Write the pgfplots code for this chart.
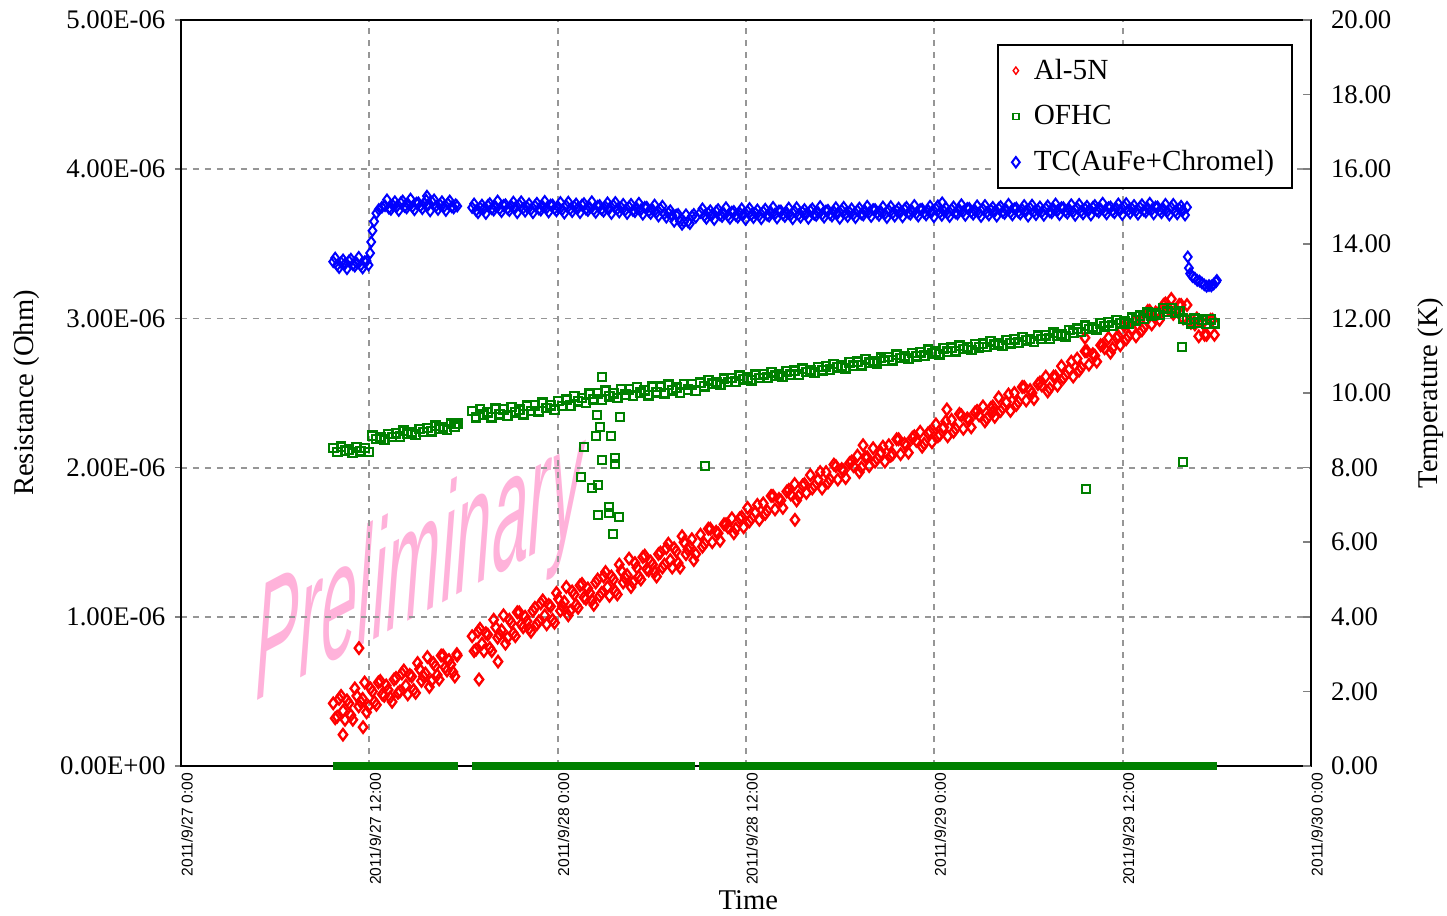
\documentclass[border=0pt]{standalone}
\usepackage{graphicx}
\usepackage{fontspec}
\setmainfont{Liberation Serif}
\newfontfamily\arialfont{Liberation Sans}
\usepackage{pgfplots}
\pgfplotsset{compat=1.18}
\usepackage{pgfplotstable}
\definecolor{wmpink}{RGB}{255,165,212}
\definecolor{gridgray}{RGB}{150,150,150}
\definecolor{ogreen}{RGB}{0,128,0}

% Al-5N resistance (x: hours since 2011/9/27 0:00, y: 1e-6 Ohm)
\pgfplotstableread{
h v
9.70 0.42
9.95 0.33
10.20 0.47
10.45 0.31
10.70 0.42
10.95 0.31
11.20 0.47
11.45 0.43
11.70 0.56
11.95 0.40
12.20 0.50
12.45 0.41
12.70 0.57
12.95 0.47
13.20 0.51
13.45 0.43
13.70 0.59
13.95 0.50
14.20 0.64
14.45 0.48
14.70 0.60
14.95 0.49
15.20 0.65
15.45 0.60
15.70 0.73
15.95 0.57
16.20 0.67
16.45 0.58
16.70 0.74
16.95 0.64
17.20 0.68
17.45 0.60
17.60 0.74
9.825 0.32
10.075 0.45
10.325 0.37
10.575 0.44
10.825 0.34
11.075 0.52
11.325 0.40
11.575 0.45
11.825 0.36
12.075 0.52
12.325 0.43
12.575 0.56
12.825 0.48
13.075 0.54
13.325 0.46
13.575 0.58
13.825 0.49
14.075 0.62
14.325 0.54
14.575 0.61
14.825 0.51
15.075 0.69
15.325 0.57
15.575 0.62
15.825 0.53
16.075 0.69
16.325 0.61
16.575 0.74
16.825 0.66
17.075 0.71
17.325 0.63
17.575 0.75
10.32 0.21
11.60 0.26
11.34 0.79
18.55 0.87
18.80 0.78
19.05 0.92
19.30 0.77
19.55 0.88
19.80 0.77
20.05 0.93
20.30 0.88
20.55 1.01
20.80 0.86
21.05 0.96
21.30 0.87
21.55 1.03
21.80 0.93
22.05 0.97
22.30 0.90
22.55 1.06
22.80 0.97
23.05 1.11
23.30 0.95
23.55 1.07
23.80 0.96
24.05 1.12
24.30 1.07
24.55 1.20
24.80 1.04
25.05 1.15
25.30 1.06
25.55 1.22
25.80 1.12
26.05 1.16
26.30 1.08
26.55 1.25
26.80 1.16
27.05 1.30
27.30 1.14
27.55 1.25
27.80 1.15
28.05 1.31
28.30 1.26
28.55 1.39
28.80 1.23
29.05 1.33
29.30 1.25
29.55 1.41
29.80 1.31
30.05 1.35
30.30 1.27
30.55 1.43
30.80 1.35
31.05 1.49
31.30 1.33
31.55 1.44
31.80 1.33
32.05 1.50
32.30 1.45
32.55 1.52
32.80 1.42
18.675 0.77
18.925 0.90
19.175 0.82
19.425 0.89
19.675 0.79
19.925 0.98
20.175 0.86
20.425 0.91
20.675 0.82
20.925 0.98
21.175 0.89
21.425 1.03
21.675 0.95
21.925 1.00
22.175 0.92
22.425 1.04
22.675 0.95
22.925 1.09
23.175 1.01
23.425 1.08
23.675 0.98
23.925 1.16
24.175 1.04
24.425 1.10
24.675 1.01
24.925 1.17
25.175 1.08
25.425 1.21
25.675 1.13
25.925 1.19
26.175 1.11
26.425 1.23
26.675 1.14
26.925 1.27
27.175 1.20
27.425 1.27
27.675 1.17
27.925 1.35
28.175 1.23
28.425 1.28
28.675 1.20
28.925 1.36
29.175 1.27
29.425 1.40
29.675 1.32
29.925 1.37
30.175 1.30
30.425 1.42
30.675 1.33
30.925 1.46
31.175 1.38
31.425 1.46
31.675 1.36
31.925 1.54
32.175 1.42
32.425 1.47
32.675 1.38
18.99 0.58
20.20 0.70
33.10 1.55
33.35 1.49
33.60 1.59
33.85 1.50
34.10 1.57
34.35 1.51
34.60 1.62
34.85 1.60
35.10 1.66
35.35 1.59
35.60 1.66
35.85 1.60
36.10 1.73
36.35 1.66
36.60 1.70
36.85 1.65
37.10 1.76
37.35 1.71
37.60 1.81
37.85 1.72
38.10 1.79
38.35 1.73
38.60 1.84
38.85 1.82
39.10 1.89
39.35 1.81
39.60 1.88
39.85 1.83
40.10 1.95
40.35 1.88
40.60 1.92
40.85 1.86
41.10 1.97
41.35 1.92
41.60 2.02
41.85 1.92
42.10 1.99
42.35 1.93
42.60 2.03
42.85 2.01
43.10 2.08
43.35 2.00
43.60 2.07
43.85 2.01
44.10 2.13
44.35 2.06
44.60 2.10
44.85 2.04
45.10 2.15
45.35 2.09
45.60 2.19
45.85 2.09
46.10 2.16
46.35 2.10
46.60 2.20
46.85 2.18
47.10 2.24
47.35 2.16
47.60 2.23
47.85 2.17
48.10 2.29
48.35 2.22
48.60 2.27
48.85 2.21
49.10 2.32
49.35 2.26
49.60 2.36
49.85 2.26
50.10 2.33
50.35 2.27
50.60 2.37
50.85 2.35
51.10 2.41
51.35 2.33
51.60 2.40
51.85 2.34
52.10 2.47
52.35 2.40
52.60 2.44
52.85 2.38
53.10 2.50
53.35 2.44
53.60 2.54
53.85 2.45
54.10 2.52
54.35 2.46
54.60 2.56
54.85 2.55
55.10 2.61
55.35 2.53
55.60 2.61
55.85 2.55
56.10 2.68
56.35 2.62
56.60 2.66
56.85 2.61
57.10 2.73
57.35 2.67
57.60 2.78
57.85 2.69
58.10 2.76
58.35 2.71
58.60 2.82
58.85 2.80
59.10 2.87
59.35 2.80
59.60 2.87
59.85 2.82
60.10 2.95
60.35 2.88
60.60 2.93
60.85 2.88
61.10 2.99
61.35 2.94
61.60 3.05
61.85 2.96
62.10 3.04
62.35 2.99
62.60 3.09
62.85 3.07
63.10 3.13
63.35 3.05
63.60 3.09
63.85 3.00
64.10 3.09
64.35 2.97
64.60 2.96
64.85 2.88
65.10 2.97
65.35 2.89
65.60 2.99
65.85 2.89
33.225 1.47
33.725 1.59
34.225 1.56
34.725 1.62
35.225 1.56
35.725 1.67
36.225 1.64
36.725 1.75
37.225 1.69
37.725 1.81
38.225 1.78
38.725 1.85
39.225 1.78
39.725 1.89
40.225 1.86
40.725 1.97
41.225 1.90
41.725 2.01
42.225 1.98
42.725 2.04
43.225 1.97
43.725 2.07
44.225 2.04
44.725 2.14
45.225 2.08
45.725 2.19
46.225 2.15
46.725 2.21
47.225 2.14
47.725 2.24
48.225 2.21
48.725 2.31
49.225 2.24
49.725 2.35
50.225 2.32
50.725 2.38
51.225 2.31
51.725 2.41
52.225 2.38
52.725 2.49
53.225 2.42
53.725 2.54
54.225 2.50
54.725 2.57
55.225 2.51
55.725 2.61
56.225 2.60
56.725 2.71
57.225 2.65
57.725 2.78
58.225 2.75
58.725 2.82
59.225 2.77
59.725 2.88
60.225 2.86
60.725 2.98
61.225 2.92
61.725 3.05
62.225 3.03
62.725 3.10
63.225 3.03
63.725 3.09
64.225 2.98
64.725 3.00
65.225 2.89
65.725 2.99
39.12 1.65
43.46 2.15
48.80 2.39
51.70 2.37
57.60 2.87
}\alfive

% OFHC resistance (1e-6 Ohm)
\pgfplotstableread{
h v
9.70 2.132
9.95 2.105
10.20 2.140
10.45 2.114
10.70 2.120
10.95 2.100
11.20 2.135
11.45 2.110
11.70 2.132
11.95 2.105
12.20 2.213
12.45 2.192
12.70 2.202
12.95 2.186
13.20 2.225
13.45 2.205
13.70 2.231
13.95 2.208
14.20 2.247
14.45 2.226
14.70 2.236
14.95 2.220
15.20 2.259
15.45 2.239
15.70 2.265
15.95 2.242
16.20 2.281
16.45 2.260
16.70 2.270
16.95 2.254
17.20 2.293
17.45 2.273
17.60 2.295
18.55 2.380
18.80 2.337
19.05 2.393
19.30 2.355
19.55 2.371
19.80 2.338
20.05 2.394
20.30 2.356
20.55 2.392
20.80 2.349
21.05 2.406
21.30 2.370
21.55 2.388
21.80 2.357
22.05 2.416
22.30 2.380
22.55 2.418
22.80 2.377
23.05 2.436
23.30 2.400
23.55 2.418
23.80 2.387
24.05 2.446
24.30 2.413
24.55 2.455
24.80 2.416
25.05 2.478
25.30 2.445
25.55 2.466
25.80 2.435
26.05 2.494
26.30 2.458
26.55 2.497
26.80 2.456
27.05 2.515
27.30 2.479
27.55 2.498
27.80 2.467
28.05 2.525
28.30 2.488
28.55 2.525
28.80 2.482
29.05 2.539
29.30 2.501
29.55 2.518
29.80 2.485
30.05 2.542
30.30 2.504
30.55 2.541
30.80 2.498
31.05 2.555
31.30 2.518
31.55 2.535
31.80 2.502
32.05 2.559
32.30 2.521
32.55 2.558
32.80 2.515
26.83 2.607
26.51 2.353
27.97 2.339
26.70 2.272
26.44 2.212
27.40 2.212
25.68 2.138
26.83 2.051
27.65 2.064
27.65 2.024
25.49 1.937
26.19 1.863
26.57 1.883
26.57 1.682
27.27 1.736
27.27 1.696
27.91 1.669
27.53 1.555
33.39 2.011
57.67 1.857
63.78 2.808
63.85 2.038
33.10 2.569
33.35 2.545
33.60 2.584
33.85 2.562
34.10 2.572
34.35 2.556
34.60 2.595
34.85 2.574
35.10 2.600
35.35 2.576
35.60 2.615
35.85 2.593
36.10 2.602
36.35 2.585
36.60 2.623
36.85 2.601
37.10 2.626
37.35 2.602
37.60 2.639
37.85 2.616
38.10 2.625
38.35 2.608
38.60 2.646
38.85 2.624
39.10 2.649
39.35 2.624
39.60 2.663
39.85 2.641
40.10 2.651
40.35 2.635
40.60 2.674
40.85 2.653
41.10 2.679
41.35 2.656
41.60 2.695
41.85 2.672
42.10 2.682
42.35 2.666
42.60 2.705
42.85 2.684
43.10 2.710
43.35 2.687
43.60 2.726
43.85 2.704
44.10 2.714
44.35 2.698
44.60 2.737
44.85 2.716
45.10 2.741
45.35 2.718
45.60 2.757
45.85 2.735
46.10 2.745
46.35 2.729
46.60 2.768
46.85 2.747
47.10 2.773
47.35 2.750
47.60 2.789
47.85 2.767
48.10 2.776
48.35 2.760
48.60 2.799
48.85 2.777
49.10 2.803
49.35 2.779
49.60 2.818
49.85 2.795
50.10 2.805
50.35 2.788
50.60 2.827
50.85 2.805
51.10 2.831
51.35 2.808
51.60 2.846
51.85 2.824
52.10 2.833
52.35 2.817
52.60 2.855
52.85 2.834
53.10 2.859
53.35 2.836
53.60 2.875
53.85 2.852
54.10 2.862
54.35 2.845
54.60 2.884
54.85 2.862
55.10 2.888
55.35 2.864
55.60 2.905
55.85 2.884
56.10 2.896
56.35 2.881
56.60 2.922
56.85 2.903
57.10 2.930
57.35 2.909
57.60 2.950
57.85 2.929
58.10 2.941
58.35 2.926
58.60 2.967
58.85 2.946
59.10 2.973
59.35 2.950
59.60 2.989
59.85 2.968
60.10 2.978
60.35 2.964
60.60 3.006
60.85 2.988
61.10 3.017
61.35 2.997
61.60 3.039
61.85 3.020
62.10 3.034
62.35 3.023
62.60 3.067
62.85 3.046
63.10 3.068
63.35 3.036
63.60 3.048
63.85 2.998
64.10 2.989
64.35 2.967
64.60 2.999
64.85 2.972
65.10 2.991
65.35 2.962
65.60 2.994
65.85 2.966
}\ofhc

% TC(AuFe+Chromel) temperature (K)
\pgfplotstableread{
h T
9.70 13.52
9.95 13.43
10.20 13.50
10.45 13.46
10.70 13.54
10.95 13.44
11.20 13.48
11.45 13.42
11.70 13.52
11.95 13.43
12.05 13.75
12.12 14.05
12.20 14.35
12.30 14.60
12.45 14.82
12.60 14.92
12.80 14.98
13.00 15.02
13.25 14.95
13.50 15.03
13.75 15.00
14.00 15.10
14.25 15.00
14.50 15.05
14.75 14.99
15.00 15.09
15.25 15.01
15.50 15.08
15.75 15.04
16.00 15.12
16.25 15.01
16.50 15.05
16.75 14.99
17.00 15.08
17.25 14.99
17.50 15.05
17.60 15.01
15.67 15.28
18.55 14.97
18.80 14.89
19.05 14.97
19.30 14.94
19.55 15.03
19.80 14.94
20.05 14.99
20.30 14.93
20.55 15.03
20.80 14.94
21.05 15.01
21.30 14.97
21.55 15.05
21.80 14.95
22.05 14.98
22.30 14.92
22.55 15.02
22.80 14.93
23.05 15.00
23.30 14.96
23.55 15.04
23.80 14.94
24.05 14.98
24.30 14.92
24.55 15.02
24.80 14.93
25.05 15.00
25.30 14.96
25.55 15.04
25.80 14.93
26.05 14.97
26.30 14.91
26.55 15.01
26.80 14.92
27.05 14.99
27.30 14.95
27.55 15.03
27.80 14.93
28.05 14.97
28.30 14.90
28.55 14.99
28.80 14.89
29.05 14.95
29.30 14.91
29.55 14.98
29.80 14.87
30.05 14.91
30.30 14.84
30.55 14.93
30.80 14.80
31.05 14.83
31.30 14.76
31.55 14.77
31.80 14.60
32.05 14.59
32.30 14.59
32.55 14.74
32.80 14.71
33.10 14.84
33.35 14.75
33.60 14.82
33.85 14.78
34.10 14.87
34.35 14.77
34.60 14.81
34.85 14.75
35.10 14.85
35.35 14.76
35.60 14.83
35.85 14.79
36.10 14.87
36.35 14.78
36.60 14.82
36.85 14.76
37.10 14.86
37.35 14.77
37.60 14.84
37.85 14.80
38.10 14.88
38.35 14.79
38.60 14.83
38.85 14.77
39.10 14.87
39.35 14.78
39.60 14.85
39.85 14.81
40.10 14.89
40.35 14.79
40.60 14.84
40.85 14.78
41.10 14.88
41.35 14.79
41.60 14.86
41.85 14.82
42.10 14.90
42.35 14.81
42.60 14.85
42.85 14.79
43.10 14.89
43.35 14.80
43.60 14.87
43.85 14.84
44.10 14.92
44.35 14.82
44.60 14.86
44.85 14.80
45.10 14.90
45.35 14.82
45.60 14.89
45.85 14.85
46.10 14.93
46.35 14.83
46.60 14.87
46.85 14.81
47.10 14.92
47.35 14.83
47.60 14.90
47.85 14.86
48.10 14.94
48.35 14.84
48.50 15.10
48.60 14.88
48.85 14.82
49.10 14.92
49.35 14.83
49.60 14.91
49.85 14.87
50.10 14.95
50.35 14.85
50.60 14.89
50.85 14.83
51.10 14.93
51.35 14.84
51.60 14.91
51.85 14.87
52.10 14.95
52.35 14.85
52.60 14.90
52.85 14.84
53.10 14.94
53.35 14.85
53.60 14.92
53.85 14.88
54.10 14.96
54.35 14.86
54.60 14.90
54.85 14.85
55.10 14.95
55.35 14.86
55.60 14.93
55.85 14.89
56.10 14.97
56.35 14.87
56.60 14.92
56.85 14.86
57.10 14.96
57.35 14.87
57.60 14.94
57.85 14.90
58.10 14.98
58.35 14.89
58.60 14.93
58.85 14.87
59.10 14.97
59.35 14.88
59.60 14.95
59.85 14.91
60.10 15.00
60.35 14.90
60.60 14.94
60.85 14.88
61.10 14.98
61.35 14.89
61.60 14.95
61.85 14.91
62.10 14.99
62.35 14.89
62.60 14.93
62.85 14.87
63.10 14.97
63.35 14.87
63.60 14.94
63.85 14.90
64.10 14.98
64.15 13.65
64.22 13.35
64.30 13.20
64.45 13.12
64.60 13.08
64.75 13.02
64.90 13.00
65.05 12.95
65.20 12.90
65.35 12.86
65.50 12.88
65.65 12.87
65.80 12.92
65.95 12.98
66.00 13.02
9.825 13.62
10.075 13.36
10.325 13.57
10.575 13.33
10.825 13.59
11.075 13.40
11.325 13.64
11.575 13.35
11.825 13.54
13.125 15.18
13.375 14.92
13.625 15.13
13.875 14.89
14.125 15.15
14.375 14.96
14.625 15.20
14.875 14.91
15.125 15.10
15.375 14.94
15.625 15.17
15.875 14.88
16.125 15.18
16.375 14.92
16.625 15.13
16.875 14.89
17.125 15.15
17.375 14.96
18.675 15.07
18.925 14.83
19.175 15.04
19.425 14.81
19.675 15.08
19.925 14.90
20.175 15.15
20.425 14.86
20.675 15.05
20.925 14.89
21.175 15.12
21.425 14.83
21.675 15.13
21.925 14.87
22.175 15.07
22.425 14.83
22.675 15.09
22.925 14.90
23.175 15.14
23.425 14.85
23.675 15.04
23.925 14.88
24.175 15.11
24.425 14.82
24.675 15.12
24.925 14.86
25.175 15.07
25.425 14.83
25.675 15.08
25.925 14.89
26.175 15.13
26.425 14.84
26.675 15.03
26.925 14.87
27.175 15.10
27.425 14.81
27.675 15.11
27.925 14.85
28.175 15.06
28.425 14.81
28.675 15.06
28.925 14.86
29.175 15.09
29.425 14.79
29.675 14.98
29.925 14.81
30.175 15.04
30.425 14.74
30.675 15.01
30.925 14.71
31.175 14.89
31.425 14.60
31.675 14.79
31.925 14.52
32.175 14.78
32.425 14.54
32.675 14.79
33.225 14.94
33.475 14.68
33.725 14.89
33.975 14.65
34.225 14.92
34.475 14.73
34.725 14.97
34.975 14.68
35.225 14.87
35.475 14.71
35.725 14.94
35.975 14.65
36.225 14.95
36.475 14.70
36.725 14.91
36.975 14.67
37.225 14.93
37.475 14.74
37.725 14.98
37.975 14.69
38.225 14.88
38.475 14.73
38.725 14.96
38.975 14.67
39.225 14.97
39.475 14.71
39.725 14.92
39.975 14.68
40.225 14.94
40.475 14.76
40.725 15.00
40.975 14.71
41.225 14.90
41.475 14.74
41.725 14.97
41.975 14.68
42.225 14.98
42.475 14.73
42.725 14.94
42.975 14.70
43.225 14.96
43.475 14.77
43.725 15.01
43.975 14.73
44.225 14.92
44.475 14.76
44.725 14.99
44.975 14.70
45.225 15.00
45.475 14.74
45.725 14.96
45.975 14.72
46.225 14.98
46.475 14.79
46.725 15.03
46.975 14.74
47.225 14.93
47.475 14.77
47.725 15.01
47.975 14.72
48.225 15.02
48.475 14.76
48.725 14.97
48.975 14.73
49.225 14.99
49.475 14.80
49.725 15.05
49.975 14.76
50.225 14.95
50.475 14.79
50.725 15.02
50.975 14.73
51.225 15.03
51.475 14.77
51.725 14.98
51.975 14.74
52.225 15.00
52.475 14.81
52.725 15.06
52.975 14.77
53.225 14.96
53.475 14.80
53.725 15.03
53.975 14.74
54.225 15.04
54.475 14.78
54.725 14.99
54.975 14.76
55.225 15.02
55.475 14.83
55.725 15.07
55.975 14.78
56.225 14.97
56.475 14.82
56.725 15.05
56.975 14.76
57.225 15.06
57.475 14.80
57.725 15.01
57.975 14.77
58.225 15.03
58.475 14.85
58.725 15.09
58.975 14.80
59.225 14.99
59.475 14.83
59.725 15.07
59.975 14.78
60.225 15.08
60.475 14.82
60.725 15.03
60.975 14.79
61.225 15.05
61.475 14.85
61.725 15.09
61.975 14.80
62.225 14.99
62.475 14.83
62.725 15.06
62.975 14.77
63.225 15.06
63.475 14.80
63.725 15.01
63.975 14.77
}\tcdata

\begin{document}
\begin{tikzpicture}
\path[use as bounding box] (-90.5pt,-75pt) rectangle (633pt,383pt);

% watermark (behind everything)
\begin{axis}[at={(0pt,0pt)}, anchor=south west, width=565pt, height=373pt, scale only axis,
  xmin=0, xmax=72, ymin=0, ymax=5, hide axis]
\node[anchor=base west, inner sep=0pt, yslant=0.53, text=wmpink, opacity=0.85]
  at (axis cs:4.75,0.43) {\scalebox{1}[2.5]{\arialfont\itshape\fontsize{32.7}{33}\selectfont Preliminary}};
\end{axis}

% left axis: resistance
\begin{axis}[at={(0pt,0pt)}, anchor=south west, width=565pt, height=373pt, scale only axis,
  xmin=0, xmax=72, ymin=0, ymax=5, clip=false,
  axis line style={line width=0.8pt},
  xtick={0,12,24,36,48,60,72},
  xticklabels={2011/9/27 0:00, 2011/9/27 12:00, 2011/9/28 0:00, 2011/9/28 12:00, 2011/9/29 0:00, 2011/9/29 12:00, 2011/9/30 0:00},
  xticklabel style={rotate=90, anchor=east, yshift=-3pt, font=\arialfont\fontsize{7.8}{8}\selectfont},
  xtick style={/pgfplots/major tick length=0pt},
  xtick pos=bottom,
  ytick={0,1,2,3,4,5},
  yticklabels={0.00E+00, 1.00E-06, 2.00E-06, 3.00E-06, 4.00E-06, 5.00E-06},
  yticklabel style={font=\fontsize{13.4}{14}\selectfont},
  ytick pos=left, ytick align=outside,
  ytick style={line width=0.8pt, /pgfplots/major tick length=3pt},
  grid=major,
  major grid style={gridgray, line width=0.9pt, dash pattern=on 3pt off 3pt},
  xlabel={Time}, ylabel={Resistance (Ohm)},
  every axis x label/.style={at={(axis description cs:0.502,-0.18)}, anchor=center, font=\fontsize{14.3}{15}\selectfont},
  every axis y label/.style={at={(axis description cs:-0.137,0.5)}, anchor=center, rotate=90, font=\fontsize{14.3}{15}\selectfont},
]
\addplot[only marks, mark=diamond, mark size=2.8pt, draw=red, mark options={line width=1.2pt, fill=none}]
  table[x=h, y=v] {\alfive};
\addplot[only marks, mark=square, mark size=2.1pt, draw=ogreen, mark options={line width=1.2pt, fill=none}]
  table[x=h, y=v] {\ofhc};
\addplot[only marks, mark=square*, mark size=1.9pt, draw=ogreen, fill=ogreen, mark options={line width=0.5pt}]
  coordinates {(9.95,0)(10.45,0)(10.95,0)(11.45,0)(11.95,0)(12.45,0)(12.95,0)(13.45,0)(13.95,0)(14.45,0)(14.95,0)(15.45,0)(15.95,0)(16.45,0)(16.95,0)(17.4,0)
  (18.8,0)(19.3,0)(19.8,0)(20.3,0)(20.8,0)(21.3,0)(21.8,0)(22.3,0)(22.8,0)(23.3,0)(23.8,0)(24.3,0)(24.8,0)(25.3,0)(25.8,0)(26.3,0)(26.8,0)(27.3,0)(27.8,0)(28.3,0)(28.8,0)(29.3,0)(29.8,0)(30.3,0)(30.8,0)(31.3,0)(31.8,0)(32.2,0)(32.5,0)
  (33.3,0)(33.8,0)(34.3,0)(34.8,0)(35.3,0)(35.8,0)(36.3,0)(36.8,0)(37.3,0)(37.8,0)(38.3,0)(38.8,0)(39.3,0)(39.8,0)(40.3,0)(40.8,0)(41.3,0)(41.8,0)(42.3,0)(42.8,0)(43.3,0)(43.8,0)(44.3,0)(44.8,0)(45.3,0)(45.8,0)(46.3,0)(46.8,0)(47.3,0)(47.8,0)(48.3,0)(48.8,0)(49.3,0)(49.8,0)(50.3,0)(50.8,0)(51.3,0)(51.8,0)(52.3,0)(52.8,0)(53.3,0)(53.8,0)(54.3,0)(54.8,0)(55.3,0)(55.8,0)(56.3,0)(56.8,0)(57.3,0)(57.8,0)(58.3,0)(58.8,0)(59.3,0)(59.8,0)(60.3,0)(60.8,0)(61.3,0)(61.8,0)(62.3,0)(62.8,0)(63.3,0)(63.8,0)(64.3,0)(64.8,0)(65.3,0)(65.75,0)};
\end{axis}

% right axis: temperature
\begin{axis}[at={(0pt,0pt)}, anchor=south west, width=565pt, height=373pt, scale only axis,
  xmin=0, xmax=72, ymin=0, ymax=20,
  axis x line=none, axis y line*=right,
  axis line style={line width=0.8pt},
  ytick={0,2,...,20},
  ytick align=inside,
  ytick style={line width=0.8pt, /pgfplots/major tick length=4pt},
  /pgf/number format/assume math mode=true,
  yticklabel style={/pgf/number format/fixed, /pgf/number format/fixed zerofill, /pgf/number format/precision=2,
    font=\fontsize{13.4}{14}\selectfont, xshift=6.5pt},
  ylabel={Temperature (K)},
  every axis y label/.style={at={(axis description cs:1.106,0.5)}, anchor=center, rotate=90, font=\fontsize{14.3}{15}\selectfont},
  legend style={at={(0.7221,0.9678)}, anchor=north west, draw=black, line width=1pt, fill=white,
    font=\fontsize{14.6}{16}\selectfont, row sep=7.5pt, inner xsep=7pt, inner ysep=5pt,
    /tikz/every odd column/.append style={column sep=5pt}},
  legend cell align=left,
]
\addlegendimage{only marks, mark=diamond, mark size=1.8pt, draw=red, mark options={line width=0.7pt}}
\addlegendentry{Al-5N}
\addlegendimage{only marks, mark=square, mark size=1.5pt, draw=ogreen, mark options={line width=0.9pt}}
\addlegendentry{OFHC}
\addplot[only marks, mark=diamond, mark size=2.6pt, draw=blue, mark options={line width=1pt, fill=none}]
  table[x=h, y=T] {\tcdata};
\addlegendentry{TC(AuFe+Chromel)}
\end{axis}
\end{tikzpicture}
\end{document}
